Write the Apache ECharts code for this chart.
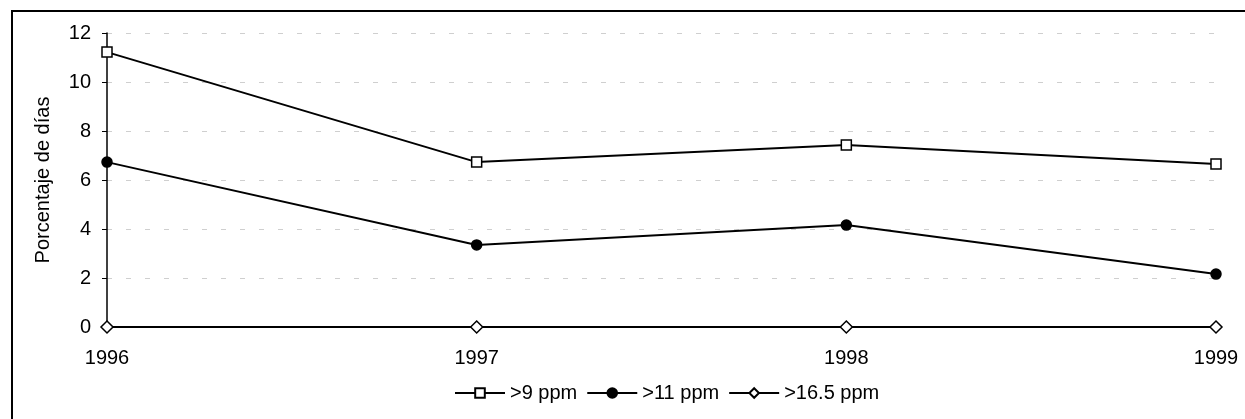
<!DOCTYPE html>
<html lang="es">
<head>
    <meta charset="UTF-8">
    <title>Porcentaje de días</title>
    <script src="https://cdn.jsdelivr.net/npm/echarts@6/dist/echarts.min.js"></script>
</head>
<body style="margin:0">
<div id="chart" style="width: 1245px;height: 419px;"></div>
<script>
    var years = ['1996', '1997', '1998', '1999'];
    var over9 = [11.22, 6.73, 7.43, 6.65];
    var over11 = [6.73, 3.35, 4.16, 2.16];
    var over165 = [0, 0, 0, 0];
    var seriesNames = ['>9 ppm', '>11 ppm', '>16.5 ppm'];

    var font = 'Liberation Sans, Arial, sans-serif';
    var myChart = echarts.init(document.getElementById('chart'));

    function lineSeries(name, data, symbol, size, fill) {
        return {
            name: name,
            type: 'line',
            data: data,
            symbol: symbol,
            symbolSize: size,
            showAllSymbol: true,
            lineStyle: {color: '#000', width: 2},
            itemStyle: {color: fill, borderColor: '#000', borderWidth: 1.5},
            emphasis: {disabled: true},
            z: 3
        };
    }

    var option = {
        backgroundColor: '#fff',
        animation: false,
        graphic: [{
            type: 'rect',
            shape: {x: 12, y: 11, width: 1250, height: 430},
            style: {fill: 'none', stroke: '#000', lineWidth: 2},
            silent: true
        }],
        grid: {left: 107, right: 29, top: 33, bottom: 92},
        legend: {
            top: 378,
            left: 449,
            itemWidth: 50,
            itemHeight: 12,
            itemGap: 9,
            textStyle: {fontFamily: font, fontSize: 20, color: '#000'},
            data: seriesNames
        },
        xAxis: {
            type: 'category',
            boundaryGap: false,
            data: years,
            axisLine: {lineStyle: {color: '#000', width: 1.5}},
            axisTick: {show: false},
            axisLabel: {fontFamily: font, fontSize: 20, color: '#000', margin: 21}
        },
        yAxis: {
            type: 'value',
            min: 0,
            max: 12,
            interval: 2,
            name: 'Porcentaje de días',
            nameLocation: 'middle',
            nameGap: 54,
            nameTextStyle: {fontFamily: font, fontSize: 20, color: '#000'},
            axisLine: {show: true, lineStyle: {color: '#000', width: 1.5}},
            axisTick: {show: true, length: 5, lineStyle: {color: '#000'}},
            axisLabel: {fontFamily: font, fontSize: 20, color: '#000', margin: 16},
            splitLine: {lineStyle: {color: '#cfcfcf', type: [5, 14], width: 1}}
        },
        series: [
            lineSeries(seriesNames[0], over9, 'rect', 10, '#fff'),
            lineSeries(seriesNames[1], over11, 'circle', 10, '#000'),
            lineSeries(seriesNames[2], over165, 'diamond', 12, '#fff')
        ]
    };
    myChart.setOption(option);
</script>
</body>
</html>
